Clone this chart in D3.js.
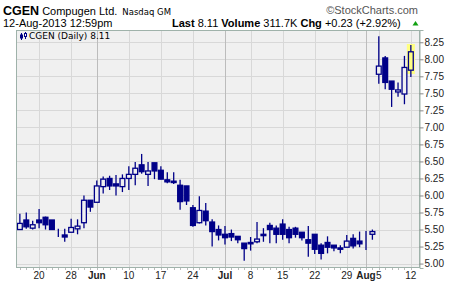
<!DOCTYPE html>
<html>
<head>
<meta charset="utf-8">
<script src="https://cdn.jsdelivr.net/npm/d3@7"></script>
<style>
  body { margin: 0; background: #fff; }
  svg text { font-family: "Liberation Sans", Arial, sans-serif; }
</style>
</head>
<body>
<div id="chart"></div>
<script>
// Daily OHLC for CGEN
const dates = [
  "2013-05-15","2013-05-16","2013-05-17","2013-05-20","2013-05-21","2013-05-22","2013-05-23","2013-05-24",
  "2013-05-28","2013-05-29","2013-05-30","2013-05-31","2013-06-03","2013-06-04","2013-06-05","2013-06-06",
  "2013-06-07","2013-06-10","2013-06-11","2013-06-12","2013-06-13","2013-06-14","2013-06-17","2013-06-18",
  "2013-06-19","2013-06-20","2013-06-21","2013-06-24","2013-06-25","2013-06-26","2013-06-27","2013-06-28",
  "2013-07-01","2013-07-02","2013-07-03","2013-07-05","2013-07-08","2013-07-09","2013-07-10","2013-07-11",
  "2013-07-12","2013-07-15","2013-07-16","2013-07-17","2013-07-18","2013-07-19","2013-07-22","2013-07-23",
  "2013-07-24","2013-07-25","2013-07-26","2013-07-29","2013-07-30","2013-07-31","2013-08-01","2013-08-02",
  "2013-08-05","2013-08-06","2013-08-07","2013-08-08","2013-08-09","2013-08-12"
];
const opens = [
  5.50,5.64,5.52,5.64,5.68,5.64,5.44,5.42, 5.46,5.51,5.60,5.93,5.90,6.13,6.25,6.17,
  6.13,6.25,6.31,6.45,6.31,6.48,6.37,6.23, 6.21,6.15,6.14,5.82,5.60,5.77,5.61,5.50,
  5.43,5.44,5.40,5.30,5.31,5.32,5.43,5.56, 5.52,5.58,5.50,5.52,5.46,5.35,5.43,5.27,
  5.31,5.27,5.23,5.24,5.37,5.33,5.39,5.43, 7.78,8.02,7.68,7.52,7.49,7.84
];
const highs = [
  5.73,5.75,5.63,5.80,5.69,5.64,5.51,5.51, 5.66,5.65,6.00,5.93,6.22,6.28,6.29,6.30,
  6.31,6.43,6.49,6.61,6.49,6.48,6.43,6.34, 6.34,6.23,6.14,5.86,5.99,5.89,5.65,5.56,
  5.55,5.50,5.40,5.30,5.39,5.61,5.52,5.60, 5.56,5.65,5.54,5.54,5.46,5.55,5.43,5.30,
  5.40,5.27,5.27,5.42,5.43,5.47,5.48,5.50, 8.34,8.05,7.68,7.66,8.05,8.21
];
const lows = [
  5.50,5.51,5.50,5.52,5.50,5.50,5.39,5.32, 5.46,5.43,5.52,5.76,5.90,6.03,6.08,6.00,
  6.05,6.08,6.15,6.32,6.14,6.24,6.24,6.18, 6.17,5.79,5.86,5.54,5.59,5.56,5.25,5.34,
  5.28,5.33,5.30,5.04,5.19,5.30,5.32,5.30, 5.30,5.35,5.30,5.38,5.34,5.10,5.14,5.06,
  5.15,5.18,5.15,5.24,5.22,5.24,5.20,5.35, 7.64,7.56,7.30,7.45,7.34,7.74
];
const closes = [
  5.59,5.54,5.57,5.60,5.57,5.50,5.44,5.39, 5.53,5.55,5.93,5.83,6.14,6.24,6.14,6.14,
  6.25,6.31,6.40,6.35,6.36,6.36,6.24,6.20, 6.19,5.91,5.92,5.56,5.78,5.63,5.47,5.42,
  5.38,5.39,5.35,5.22,5.29,5.36,5.41,5.50, 5.43,5.43,5.38,5.43,5.38,5.30,5.21,5.15,
  5.24,5.23,5.21,5.33,5.26,5.29,5.39,5.47, 7.90,7.66,7.56,7.55,7.88,8.11
];

// x axis labels (first trading day of each week / month)
const tickDates = ["2013-05-20","2013-05-28","2013-06-03","2013-06-10","2013-06-17","2013-06-24","2013-07-01",
  "2013-07-08","2013-07-15","2013-07-22","2013-07-29","2013-08-01","2013-08-05","2013-08-12"];
const tickLabels = ["20","28","Jun","10","17","24","Jul","8","15","22","29","Aug","5","12"];
const monthDates = ["2013-06-03","2013-07-01","2013-08-01"];

const priceTicks = d3.range(5, 8.26, 0.25);

function drawCandles(containerId = "chart") {
  const totalW = 460, totalH = 284;
  const margin = { top: 30, right: 40, bottom: 16, left: 16 },
    width = totalW - margin.left - margin.right,
    height = totalH - margin.top - margin.bottom;

  const data = dates.map((d, i) => ({
    date: d, open: opens[i], high: highs[i], low: lows[i], close: closes[i]
  }));

  const svg = d3.select(`#${containerId}`)
    .append("svg")
    .attr("width", totalW)
    .attr("height", totalH);

  // header
  const head = svg.append("g");
  const title = head.append("text").attr("x", 3).attr("y", 15);
  title.append("tspan").style("font-size", "12.5px").style("font-weight", "bold").text("CGEN");
  title.append("tspan").attr("dx", 3).style("font-size", "11px").text("Compugen Ltd.");
  title.append("tspan").attr("dx", 5).style("font-family", "DejaVu Sans").style("font-size", "8.5px").text("Nasdaq GM");

  head.append("text").attr("x", 3).attr("y", 27)
    .style("font-size", "11px").text("12-Aug-2013 12:59pm");

  const stats = head.append("text").attr("x", 172).attr("y", 27).style("font-size", "11px");
  stats.append("tspan").style("font-weight", "bold").text("Last");
  stats.append("tspan").text(" 8.11 ");
  stats.append("tspan").style("font-weight", "bold").text(" Volume");
  stats.append("tspan").text(" 311.7K ");
  stats.append("tspan").style("font-weight", "bold").text(" Chg");
  stats.append("tspan").text(" +0.23 (+2.92%)");

  head.append("path")
    .attr("d", "M412.5,25.5 L418.5,25.5 L415.5,21 Z")
    .attr("fill", "#11a011");

  head.append("text").attr("x", 418).attr("y", 14)
    .attr("text-anchor", "end")
    .style("font-size", "11px").style("fill", "#555")
    .text("\u00a9StockCharts.com");

  const g = svg.append("g")
    .attr("transform", `translate(${margin.left},${margin.top})`);

  // scales
  const x = d3.scaleBand()
    .domain(dates)
    .range([0, width])
    .paddingInner(0)
    .paddingOuter(0.515)
    .align(0.1);
  const cx = d => x(d) + x.bandwidth() / 2;

  const y = d3.scaleLinear()
    .domain([4.935, 8.43])
    .range([height, 0]);

  // plot background
  g.append("rect")
    .attr("width", width).attr("height", height)
    .attr("fill", "#f0f0f0");

  // horizontal grid
  g.selectAll(".hgrid")
    .data(priceTicks)
    .join("line")
    .attr("class", "hgrid")
    .attr("x1", 0).attr("x2", width)
    .attr("y1", d => Math.round(y(d)) + 0.5)
    .attr("y2", d => Math.round(y(d)) + 0.5)
    .attr("stroke", "#d8d8d8");

  // vertical grid
  g.selectAll(".vgrid")
    .data(tickDates)
    .join("line")
    .attr("class", "vgrid")
    .attr("x1", d => Math.round(cx(d)) + 0.5)
    .attr("x2", d => Math.round(cx(d)) + 0.5)
    .attr("y1", 0).attr("y2", height)
    .attr("stroke", d => monthDates.includes(d) ? "#bcbcbc" : "#d8d8d8");

  // legend
  const leg = g.append("g").attr("transform", "translate(4,2)");
  leg.append("line").attr("x1", 1.5).attr("x2", 1.5).attr("y1", 1).attr("y2", 8).attr("stroke", "#000088");
  leg.append("rect").attr("x", 0).attr("y", 2.5).attr("width", 3).attr("height", 4).attr("fill", "#000088");
  leg.append("line").attr("x1", 5.5).attr("x2", 5.5).attr("y1", 0).attr("y2", 7).attr("stroke", "#000088");
  leg.append("rect").attr("x", 4.5).attr("y", 1.5).attr("width", 2).attr("height", 3).attr("fill", "#fff").attr("stroke", "#000088");
  g.append("text").attr("x", 13).attr("y", 9)
    .style("font-family", "DejaVu Sans").style("font-size", "9px")
    .text("CGEN (Daily) 8.11");

  // highlight of last bar
  const last = data[data.length - 1];
  g.append("rect")
    .attr("x", cx(last.date) - 4)
    .attr("y", y(last.high) - 1)
    .attr("width", 8)
    .attr("height", y(last.low) - y(last.high) - 2)
    .attr("fill", "#ffff80");

  const navy = "#000088";

  // wicks
  g.selectAll(".wick")
    .data(data)
    .join("line")
    .attr("class", "wick")
    .attr("x1", d => cx(d.date)).attr("x2", d => cx(d.date))
    .attr("y1", d => y(d.high)).attr("y2", d => y(d.low))
    .attr("stroke", navy)
    .attr("stroke-width", 1.3);

  // bodies: hollow when close > open (background shows through)
  g.selectAll(".body")
    .data(data)
    .join("rect")
    .attr("class", "body")
    .attr("x", d => cx(d.date) - 2.4)
    .attr("width", 4.8)
    .attr("y", d => y(Math.max(d.open, d.close)))
    .attr("height", d => Math.abs(y(d.open) - y(d.close)))
    .attr("fill", (d, i) => d.close > d.open ? (i === data.length - 1 ? "#ffff80" : "#f0f0f0") : navy)
    .attr("stroke", navy)
    .attr("stroke-width", 1.3);

  // plot frame
  g.append("rect")
    .attr("x", 0.5).attr("y", 0.5)
    .attr("width", width - 1).attr("height", height - 1)
    .attr("fill", "none")
    .attr("stroke", "#9fb2aa");

  // right axis
  g.append("g")
    .attr("transform", `translate(${width - 0.5},0)`)
    .call(d3.axisRight(y).tickValues(priceTicks).tickSize(4).tickPadding(1).tickFormat(d3.format(".2f")))
    .call(a => a.select(".domain").attr("stroke", "#9fb2aa"))
    .call(a => a.selectAll(".tick line").attr("stroke", "#888"))
    .call(a => a.selectAll(".tick text")
      .style("font-family", "Liberation Sans, Arial, sans-serif")
      .style("font-size", "10px").attr("fill", "#222"));

  // small day ticks under the plot
  g.selectAll(".dtick")
    .data(dates)
    .join("line")
    .attr("class", "dtick")
    .attr("x1", d => Math.round(cx(d)) + 0.5).attr("x2", d => Math.round(cx(d)) + 0.5)
    .attr("y1", height).attr("y2", height + 2)
    .attr("stroke", "#bbb");

  // bottom labels
  g.selectAll(".xlab")
    .data(tickDates)
    .join("text")
    .attr("class", "xlab")
    .attr("x", d => cx(d))
    .attr("y", height + 11)
    .attr("text-anchor", "middle")
    .style("font-size", "10px")
    .style("font-weight", d => monthDates.includes(d) ? "bold" : "normal")
    .attr("fill", "#222")
    .text((d, i) => tickLabels[i]);
}

drawCandles();
</script>
</body>
</html>
